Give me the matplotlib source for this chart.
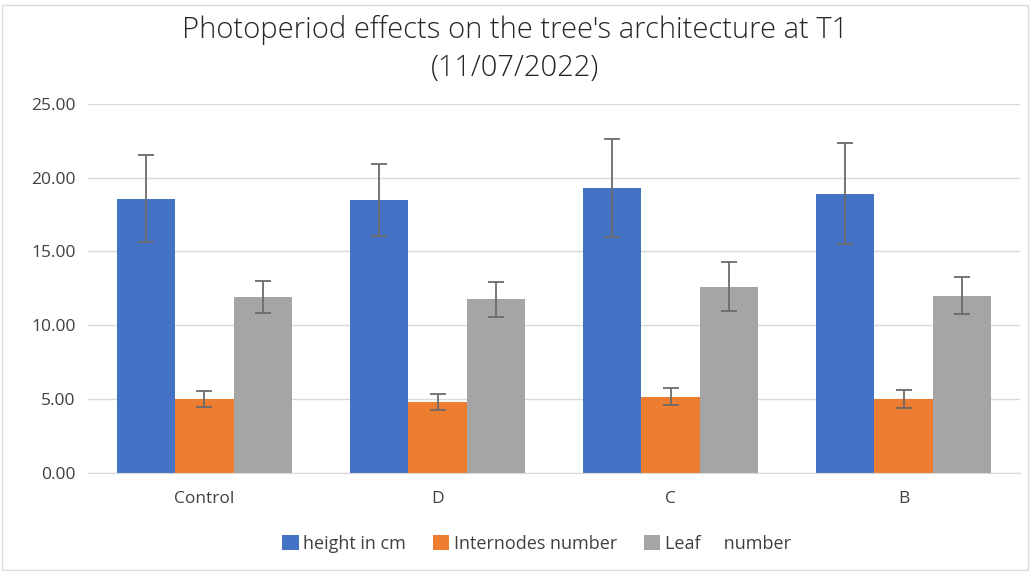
import matplotlib.pyplot as plt
import numpy as np

categories = ['Control', 'D', 'C', 'B']
series_names = ['height in cm', 'Internodes number', 'Leaf     number']
height = [18.56, 18.50, 19.31, 18.92]
height_err = [2.95, 2.44, 3.30, 3.44]
internodes = [4.98, 4.80, 5.17, 5.00]
internodes_err = [0.55, 0.57, 0.58, 0.58]
leaf = [11.92, 11.77, 12.60, 12.00]
leaf_err = [1.08, 1.18, 1.66, 1.25]

colors = ['#4472C4', '#ED7D31', '#A5A5A5']

plt.rcParams['font.family'] = ['Open Sans', 'DejaVu Sans']

fig = plt.figure(figsize=(10.30, 5.71), dpi=100)
ax = fig.add_axes([0.0854, 0.172, 0.905, 0.646])

x = np.arange(len(categories))
w = 0.25
values = [height, internodes, leaf]
errs = [height_err, internodes_err, leaf_err]
for i in range(3):
    ax.bar(x + (i - 1) * w, values[i], width=w, color=colors[i],
           label=series_names[i], zorder=2,
           yerr=errs[i], capsize=6,
           error_kw=dict(ecolor='#6b6b6b', elinewidth=1.3, capthick=1.3, zorder=3))

ax.set_xlim(-0.5, len(categories) - 0.5)
ax.set_ylim(0, 25)
ax.set_yticks(np.arange(0, 26, 5))
ax.set_yticklabels(['%.2f' % v for v in np.arange(0, 26, 5)])
ax.set_xticks(x)
ax.set_xticklabels(categories)
ax.tick_params(axis='both', length=0, labelsize=12.5, colors='#404040')
ax.tick_params(axis='x', pad=13)
ax.tick_params(axis='y', pad=9)
ax.grid(axis='y', color='#d9d9d9', linewidth=1, zorder=0)
for s in ['top', 'right', 'left']:
    ax.spines[s].set_visible(False)
ax.spines['bottom'].set_color('#d9d9d9')

fig.text(0.5, 0.914, "Photoperiod effects on the tree's architecture at T1\n(11/07/2022)",
         ha='center', va='center', fontsize=21, color='#262626',
         fontweight='light', linespacing=1.4)

handles, labels = ax.get_legend_handles_labels()
fig.legend(handles, labels, loc='center', bbox_to_anchor=(0.521, 0.048), ncol=3,
           frameon=False, fontsize=13, handlelength=0.9, handleheight=0.9,
           columnspacing=1.5, handletextpad=0.25, labelcolor='#404040')

fig.patches.append(plt.Rectangle((0.002, 0.002), 0.996, 0.99, transform=fig.transFigure,
                                 fill=False, edgecolor='#d9d9d9', linewidth=1))

fig.savefig('out.png', dpi=100)
